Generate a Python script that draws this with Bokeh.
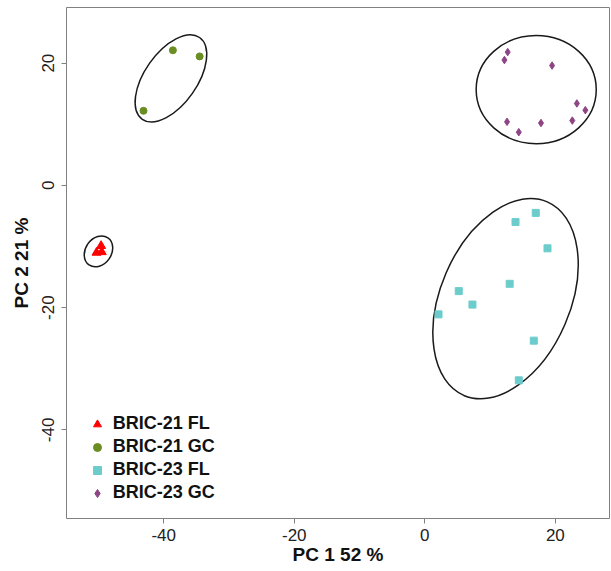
from bokeh.plotting import figure
from bokeh.models import Range1d, FixedTicker, Legend, LegendItem
from bokeh.embed import file_html
from bokeh.resources import INLINE

# ---- data ----
fl21_x = [-49.6, -50.3, -49.5]
fl21_y = [-9.9, -11.0, -10.9]
gc21_x = [-38.6, -34.5, -43.1]
gc21_y = [22.1, 21.1, 12.2]
fl23_x = [17.0, 13.9, 18.8, 13.0, 5.2, 7.3, 2.1, 16.7, 14.4]
fl23_y = [-4.5, -6.0, -10.3, -16.1, -17.3, -19.5, -21.1, -25.4, -31.9]
gc23_x = [12.7, 12.2, 19.5, 23.3, 24.6, 12.6, 17.8, 22.6, 14.4]
gc23_y = [21.8, 20.5, 19.6, 13.4, 12.3, 10.4, 10.2, 10.6, 8.7]

# group ellipses: centre, full axes (data units), rotation (radians)
ell_x = [-50.0, -38.9, 12.37, 17.07]
ell_y = [-10.8, 17.5, -18.53, 15.67]
ell_w = [5.06, 15.3, 32.3, 18.4]
ell_h = [4.25, 8.57, 21.2, 17.7]
ell_angle = [0.96, 0.96, 1.164, 0.0]

labels = ["BRIC-21 FL", "BRIC-21 GC", "BRIC-23 FL", "BRIC-23 GC"]
x_ticks = [-40, -20, 0, 20]
y_ticks = [-40, -20, 0, 20]
tick_labels = {-40: "-40", -20: "-20", 0: "0", 20: "20"}

p = figure(frame_width=543, frame_height=511,
           x_range=Range1d(-54.9, 28.3), y_range=Range1d(-54.5, 29.1),
           output_backend="svg", toolbar_location=None,
           min_border_left=66, min_border_right=2, min_border_top=7, min_border_bottom=52,
           x_axis_label="PC 1 52 %", y_axis_label="PC 2 21 %")
p.grid.visible = False
p.outline_line_color = "#808080"
p.outline_line_width = 1
p.background_fill_color = "white"
p.border_fill_color = "white"

for ax, ticks in ((p.xaxis[0], x_ticks), (p.yaxis[0], y_ticks)):
    ax.ticker = FixedTicker(ticks=ticks)
    ax.major_label_overrides = tick_labels
    ax.minor_tick_line_color = None
    ax.axis_line_color = None
    ax.major_tick_line_color = "#808080"
    ax.major_tick_out = 5
    ax.major_tick_in = 0
    ax.major_label_text_font = "Liberation Sans"
    ax.major_label_text_font_size = "17px"
    ax.major_label_text_color = "#222222"
    ax.axis_label_text_font = "Liberation Sans"
    ax.axis_label_text_font_size = "19px"
    ax.axis_label_text_font_style = "bold"
    ax.axis_label_text_color = "#111111"
p.xaxis[0].major_label_standoff = 5
p.xaxis[0].axis_label_standoff = 0
p.yaxis[0].major_label_standoff = 7
p.yaxis[0].axis_label_standoff = 8
p.yaxis[0].major_label_orientation = "vertical"

p.ellipse(x=ell_x, y=ell_y, width=ell_w, height=ell_h, angle=ell_angle,
          fill_color=None, line_color="#1a1a1a", line_width=1.5)

r1 = p.scatter(fl21_x, fl21_y, marker="triangle", size=9, color="#ff0000")
r2 = p.scatter(gc21_x, gc21_y, marker="circle", size=7, color="#6b8e23")
r3 = p.scatter(fl23_x, fl23_y, marker="square", size=7, color="#6ccccc")
r4 = p.scatter(gc23_x, gc23_y, marker="diamond", size=7.5, color="#8e4585")

legend = Legend(items=[LegendItem(label=l, renderers=[r]) for l, r in zip(labels, [r1, r2, r3, r4])],
                location=(20.7, 14.7), margin=0, padding=10, spacing=2,
                glyph_width=20, glyph_height=20, label_height=20, label_standoff=6,
                label_text_font="Liberation Sans", label_text_font_size="18px",
                label_text_font_style="bold", label_text_color="#111111",
                background_fill_alpha=0, border_line_color=None)
p.add_layout(legend)

open("out.html", "w").write(file_html(p, INLINE))
